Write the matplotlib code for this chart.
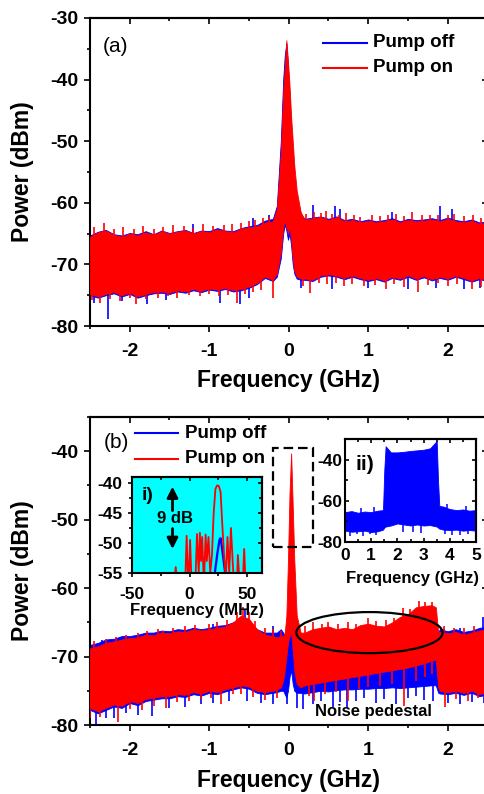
import numpy as np
import matplotlib
matplotlib.use('Agg')
import matplotlib.pyplot as plt
from matplotlib.patches import Ellipse, Rectangle
from matplotlib.ticker import MultipleLocator

plt.rcParams['font.family'] = ['Liberation Sans', 'DejaVu Sans']
plt.rcParams['font.weight'] = 'bold'
plt.rcParams['axes.labelweight'] = 'bold'
plt.rcParams['axes.unicode_minus'] = False

BLUE = '#0000ff'
RED = '#ff0000'

# ---- panel (a): envelope of the noisy traces (GHz, dBm) ----
fa = [-2.5, -2.4, -2.3, -2.2, -2.1, -2.0, -1.9, -1.8, -1.7, -1.6, -1.5, -1.4,
      -1.3, -1.2, -1.1, -1.0, -0.9, -0.8, -0.7, -0.6, -0.5, -0.4, -0.3, -0.2,
      -0.15, -0.1, -0.07, -0.05, -0.03, -0.01, 0.01, 0.03, 0.05, 0.07, 0.1, 0.15,
      0.2, 0.3, 0.4, 0.5, 0.6, 0.7, 0.8, 0.9, 1.0, 1.1, 1.2, 1.3, 1.4, 1.5, 1.6,
      1.7, 1.8, 1.9, 2.0, 2.1, 2.2, 2.3, 2.4, 2.5]
a_on_hi = [-65.5, -64.8, -64.5, -65.2, -65.5, -65.0, -65.3, -64.8, -65.2, -64.6, -65.0, -64.7,
           -64.5, -65.0, -64.6, -64.8, -64.3, -64.6, -64.8, -64.2, -64.0, -63.8, -63.2, -63.0,
           -61.0, -52.0, -42.0, -38.0, -33.6, -37.0, -41.0, -46.0, -50.0, -54.0, -58.0, -61.5,
           -62.8, -62.5, -62.3, -62.8, -62.3, -63.0, -62.8, -63.2, -62.9, -63.2, -63.0, -62.7,
           -63.2, -62.8, -63.0, -62.9, -62.7, -63.0, -62.6, -63.0, -63.2, -62.9, -63.4, -63.2]
a_on_lo = [-74.8, -75.2, -74.8, -74.5, -75.0, -74.6, -75.2, -74.8, -74.5, -74.4, -74.6, -74.2,
           -74.4, -74.0, -74.3, -73.9, -74.1, -73.8, -74.2, -74.0, -73.6, -73.0, -72.0, -72.5,
           -71.5, -68.0, -64.0, -63.0, -64.0, -65.0, -64.0, -66.0, -69.0, -71.0, -72.0, -72.3,
           -72.3, -72.5, -71.8, -71.6, -71.8, -72.2, -71.8, -72.2, -72.5, -72.2, -72.6, -72.0,
           -72.3, -71.8, -72.3, -71.9, -72.4, -72.0, -72.3, -71.8, -72.2, -72.6, -72.2, -72.5]
a_off_hi = [-65.3, -64.7, -64.4, -65.1, -65.3, -64.9, -65.1, -64.6, -65.1, -64.5, -64.9, -64.6,
            -64.4, -64.9, -64.5, -64.6, -64.1, -64.5, -64.6, -64.1, -63.8, -63.6, -62.9, -62.6,
            -60.5, -50.0, -40.0, -36.0, -34.1, -38.0, -43.0, -48.0, -52.0, -56.0, -59.5, -61.8,
            -62.6, -62.4, -62.2, -62.6, -62.2, -62.8, -62.6, -63.0, -62.7, -63.0, -62.8, -62.5,
            -63.0, -62.6, -62.8, -62.7, -62.5, -62.8, -62.4, -62.8, -63.0, -62.7, -63.2, -63.0]
a_off_lo = [-75.0, -75.4, -75.0, -74.7, -75.2, -74.8, -75.4, -75.0, -74.7, -74.6, -74.8, -74.4,
            -74.6, -74.2, -74.5, -74.1, -74.3, -74.0, -74.4, -74.2, -73.8, -73.2, -72.2, -72.7,
            -72.0, -69.0, -65.0, -63.5, -64.5, -66.0, -65.0, -67.0, -70.0, -71.5, -72.3, -72.5,
            -72.5, -72.7, -72.0, -71.8, -72.0, -72.4, -72.0, -72.4, -72.7, -72.4, -72.8, -72.2,
            -72.5, -72.0, -72.5, -72.1, -72.6, -72.2, -72.5, -72.0, -72.4, -72.8, -72.4, -72.7]
a_off_spk_f = [-2.45, -2.27, -2.1, -1.78, -1.55, -1.2, -0.87, -0.61, -0.5, -0.45, -0.25,
               0.15, 0.3, 0.55, 0.58, 0.65, 1.0, 1.3, 1.5, 1.85, 1.9, 2.05, 2.2, 2.4]
a_off_spk_v = [-76.2, -78.8, -76.0, -76.5, -75.8, -63.5, -76.3, -76.5, -75.5, -62.5, -62.0,
               -73.8, -60.4, -74.0, -60.5, -61.0, -73.8, -61.5, -74.0, -73.8, -60.6, -61.0, -74.0, -73.8]
a_on_spk_f = [-2.45, -2.33, -2.2, -2.08, -1.95, -1.83, -1.7, -1.58, -1.45, -1.32, -1.2, -1.08,
              -0.95, -0.82, -0.72, -0.6, -0.5, -0.42, -0.33, -0.25, 0.22, 0.32, 0.4, 0.47,
              0.55, 0.63, 0.72, 0.82, 0.9, 1.05, 1.15, 1.25, 1.35, 1.45, 1.55, 1.68, 1.78,
              1.88, 2.0, 2.08, 2.2, 2.32, 2.42,
              -2.48, -2.38, -2.25, -2.12, -2.0, -1.92, -1.8, -1.65, -1.52, -1.4, -1.25, -1.12,
              -1.0, -0.88, -0.77, -0.65, -0.55, -0.45, -0.35, -0.2, 0.18, 0.27, 0.38, 0.48,
              0.6, 0.7, 0.8, 0.95, 1.08, 1.22, 1.32, 1.45, 1.62, 1.75, 1.88, 2.0, 2.12, 2.3, 2.42]
a_on_spk_v = [-64.0, -63.2, -64.3, -64.0, -64.2, -63.8, -64.3, -63.9, -63.6, -63.8, -64.1, -63.5,
              -63.7, -63.6, -63.4, -63.2, -63.0, -62.8, -62.5, -62.3, -61.8, -61.5, -61.6, -61.4,
              -61.8, -61.9, -61.7, -62.0, -62.3, -62.0, -62.2, -62.0, -61.8, -62.1, -61.5, -62.0, -61.9,
              -62.0, -61.9, -61.8, -62.2, -62.0, -62.4,
              -75.8, -76.2, -75.6, -75.9, -75.5, -76.4, -75.6, -75.5, -75.2, -75.4, -75.0, -75.2,
              -74.8, -75.2, -75.0, -76.3, -74.8, -74.5, -74.2, -75.5, -73.5, -74.6, -73.0, -73.2,
              -73.0, -73.5, -73.2, -73.5, -73.3, -74.0, -73.2, -73.6, -74.5, -73.4, -73.0, -73.5,
              -73.2, -74.0, -73.6]

# ---- panel (b) ----
fb = [-2.5, -2.4, -2.3, -2.2, -2.1, -2.0, -1.9, -1.8, -1.7, -1.6, -1.5, -1.4,
      -1.3, -1.2, -1.1, -1.0, -0.9, -0.8, -0.7, -0.6, -0.5, -0.4, -0.3, -0.2,
      -0.15, -0.1, -0.07, -0.05, -0.03, -0.01, 0.01, 0.03, 0.05, 0.07, 0.1, 0.15,
      0.2, 0.3, 0.4, 0.5, 0.6, 0.7, 0.8, 0.9, 1.0, 1.1, 1.2, 1.3, 1.4, 1.5, 1.6,
      1.7, 1.8, 1.85, 1.88, 1.9, 2.0, 2.1, 2.2, 2.3, 2.4, 2.5]
b_on_hi = [-68.8, -68.5, -68.0, -67.8, -67.5, -67.3, -67.2, -66.8, -66.9, -66.5, -66.6, -66.3,
           -66.4, -66.0, -66.2, -66.0, -65.8, -65.6, -65.0, -64.0, -64.5, -66.0, -66.8, -67.0,
           -67.2, -67.0, -67.0, -66.5, -64.0, -56.0, -46.0, -40.3, -48.0, -56.0, -64.0, -66.5,
           -66.5, -66.0, -65.8, -65.6, -66.0, -65.8, -66.0, -65.4, -65.2, -65.5, -65.6, -65.0,
           -64.2, -63.8, -62.8, -62.6, -62.5, -62.8, -66.5,
           -66.4, -66.6, -66.4, -66.8, -66.5, -66.2, -66.0]
b_on_lo = [-77.5, -78.0, -77.5, -77.0, -77.2, -76.5, -76.8, -76.2, -76.0, -75.8, -75.8, -75.5,
           -75.6, -75.2, -75.4, -75.0, -75.2, -74.8, -74.5, -74.2, -74.4, -75.0, -75.2, -75.0,
           -74.8, -74.5, -73.5, -72.0, -70.0, -68.0, -67.0, -66.5, -69.0, -72.0, -74.0, -74.5,
           -74.2, -74.0, -73.8, -73.6, -73.4, -73.2, -73.0, -72.8, -72.6, -72.4, -72.2, -72.0,
           -71.8, -71.6, -71.3, -71.0, -70.6, -70.5, -74.5,
           -75.0, -75.2, -75.0, -75.3, -75.0, -75.5, -75.2]
b_off_hi = [-68.3, -68.0, -67.5, -67.4, -67.0, -67.0, -66.8, -66.5, -66.5, -66.2, -66.3, -66.0,
            -66.1, -65.8, -66.0, -65.8, -65.5, -65.4, -65.0, -64.5, -65.0, -66.0, -66.5, -66.5,
            -66.5, -66.0, -66.5, -67.0, -66.0, -64.0, -63.0, -65.0, -66.0, -64.5, -66.0, -67.0,
            -68.5, -68.5, -68.6, -68.8, -68.5, -68.8, -69.0, -68.8, -69.0, -68.9, -69.0, -69.2,
            -69.0, -69.2, -69.0, -69.3, -69.0, -69.0, -66.5,
            -66.0, -66.3, -66.0, -66.4, -66.2, -65.8, -65.6]
b_off_lo = [-77.8, -78.3, -77.8, -77.3, -77.5, -76.8, -77.1, -76.5, -76.3, -76.1, -76.1, -75.8,
            -75.9, -75.5, -75.7, -75.3, -75.5, -75.1, -74.8, -74.5, -74.7, -75.3, -75.5, -75.3,
            -75.2, -75.0, -75.0, -75.5, -76.0, -75.0, -73.0, -72.0, -74.0, -75.0, -75.3, -75.3,
            -75.4, -75.2, -75.0, -75.1, -74.9, -74.8, -74.8, -74.7, -74.7, -74.6, -74.6, -74.5,
            -74.6, -74.5, -74.4, -74.3, -74.2, -74.2, -75.3,
            -75.4, -75.5, -75.3, -75.6, -75.3, -75.8, -75.5]
b_off_spk_f = [-2.43, -2.3, -2.2, -2.05, -1.9, -1.72, -1.5, -1.3, -1.1, -0.95, -0.75, -0.53,
               -0.35, -0.2, -0.02, 0.1, 0.18, 0.3, 0.4, 0.56, 0.65, 0.73, 0.85, 0.95, 1.1,
               1.2, 1.35, 1.5, 1.6, 1.7, 1.82, 2.0, 2.15, 2.3, 2.45,
               -2.35, -1.7, -1.2, -0.95, -0.55, -0.2, 0.02, 0.08, 1.95, 2.15, 2.44]
b_off_spk_v = [-80.0, -79.0, -79.0, -78.3, -78.5, -78.7, -77.5, -77.3, -77.0, -76.8, -76.5, -76.5,
               -76.8, -77.0, -77.0, -77.5, -77.6, -77.0, -76.5, -77.3, -76.6, -77.5, -76.5, -76.0, -76.8,
               -76.2, -77.0, -76.0, -75.8, -76.3, -76.5, -76.8, -77.0, -76.6, -76.8,
               -67.6, -66.5, -65.8, -65.2, -63.2, -65.6, -62.7, -61.8, -66.0, -65.8, -64.2]
b_on_spk_f = [-2.45, -2.3, -2.17, -2.05, -1.9, -1.78, -1.65, -1.58, -1.45, -1.3, -1.18, -1.0,
              -0.9, -0.78, -0.65, -0.58, -0.5, -0.42, -0.3, -0.2, -0.1, 0.2, 0.3, 0.42, 0.5,
              0.62, 0.75, 0.85, 1.0, 1.1, 1.22, 1.32, 1.44, 1.52, 1.64, 1.72, 1.8, 1.95, 2.08,
              2.2, 2.33, 2.47,
              -2.5, -2.38, -2.15, -2.0, -1.85, -1.7, -1.55, -1.4, -1.25, -1.1, -0.98, -0.85,
              -0.7, -0.6, -0.45, -0.3, -0.15, 0.25, 0.32, 0.45, 0.6, 0.745, 0.88, 1.0, 1.15,
              1.3, 1.45, 1.6, 1.72, 1.8, 1.97, 2.1, 2.25, 2.38, 2.48]
b_on_spk_v = [-67.8, -67.4, -67.2, -66.8, -66.5, -66.3, -66.0, -66.2, -65.8, -65.6, -65.4, -65.2,
              -65.0, -64.6, -63.5, -62.8, -63.5, -64.8, -65.8, -66.0, -66.2, -65.6, -65.0, -65.2, -64.9,
              -65.2, -65.0, -65.3, -64.4, -64.8, -64.6, -64.3, -62.9, -63.0, -61.9, -62.0, -62.1, -65.6, -65.8,
              -65.9, -65.6, -64.5,
              -79.0, -78.8, -79.5, -77.6, -77.8, -77.2, -77.5, -76.6, -76.5, -76.2, -76.0, -77.0,
              -75.5, -75.4, -75.9, -76.3, -76.0, -75.8, -76.5, -75.5, -75.2, -76.5, -74.8, -74.5, -74.3,
              -74.0, -77.2, -73.5, -73.0, -72.5, -77.4, -76.2, -76.5, -76.0, -76.5]

# ---- inset i) (MHz, dBm) ----
fi_on = [-50, -14, -12, -10, -4, -2.5, -1, 0.5, 2, 5, 6.5, 8, 9, 10, 11, 12.5, 14, 15, 16.5,
         18, 19.5, 21, 22.5, 24, 25.5, 27, 28.5, 30, 31.5, 33, 34.5, 36, 37.5, 39, 41, 42,
         44, 46, 47.5, 49, 62]
pi_on = [-58, -58, -54, -58, -58, -48.8, -58, -49.5, -58, -57, -48.5, -55, -48.3, -53, -49,
         -57, -48.6, -53, -49, -55, -52, -45, -41, -40.4, -40.5, -41.5, -47, -52, -56, -49,
         -55, -47.5, -53, -58, -58, -52, -58, -58, -51, -58, -58]
fi_off = [-50, 20, 22, 24, 26, 27, 28, 29, 31, 33, 62]
pi_off = [-58, -58, -55, -52, -49.5, -49.2, -50.5, -52, -55, -58, -58]

# ---- inset ii) (GHz, dBm) ----
fii = [0, 0.25, 0.5, 0.75, 1.0, 1.25, 1.45, 1.5, 1.55, 1.75, 2.0, 2.25, 2.5, 2.75, 3.0,
       3.25, 3.5, 3.55, 3.6, 3.75, 4.0, 4.25, 4.5, 4.75, 5.0]
ii_hi = [-65.5, -65.0, -65.8, -65.2, -65.5, -64.8, -64.5, -45, -33.5, -36.5, -36.5, -36.2,
         -35.8, -35.5, -35.2, -34.5, -31.0, -50, -62.5, -62.8, -64.0, -64.5, -64.2, -64.8, -64.5]
ii_lo = [-74.5, -75.0, -74.8, -74.5, -75.2, -74.8, -74.0, -73.0, -72.5, -72.0, -71.0, -71.5,
         -72.0, -71.5, -72.0, -71.8, -72.5, -73.0, -73.5, -74.0, -74.2, -74.0, -74.5, -74.2, -74.5]
ii_spk_f = [0.2, 0.45, 0.7, 0.95, 1.2, 2.2, 2.6, 2.9, 3.8, 4.1, 4.4, 4.7, 0.6, 1.1, 3.9, 4.6]
ii_spk_v = [-77, -76, -77, -76, -76.5, -75, -75, -75.5, -76, -76.5, -76.5, -76,
            -63.5, -63.0, -61.5, -62.5]


def band(ax, f, hi, lo, sf, sv, color, z):
    ax.fill_between(f, lo, hi, color=color, lw=0.6, zorder=z)
    mid = np.interp(sf, f, (np.array(hi) + np.array(lo)) / 2)
    ax.vlines(sf, mid, sv, color=color, lw=1.2, zorder=z)


def sides(ax, xmaj, xmin, ymaj, ymin, out=True, length=(4, 2.5), lw=1.5):
    for s in ax.spines.values():
        s.set_linewidth(lw)
    d = 'out' if out else 'in'
    ax.xaxis.set_major_locator(MultipleLocator(xmaj))
    ax.xaxis.set_minor_locator(MultipleLocator(xmin))
    ax.yaxis.set_major_locator(MultipleLocator(ymaj))
    ax.yaxis.set_minor_locator(MultipleLocator(ymin))
    ax.tick_params(which='both', direction=d, width=1.2)
    ax.tick_params(which='major', length=length[0])
    ax.tick_params(which='minor', length=length[1])
    top = ax.secondary_xaxis('top')
    right = ax.secondary_yaxis('right')
    top.xaxis.set_major_locator(MultipleLocator(xmaj))
    top.xaxis.set_minor_locator(MultipleLocator(xmin))
    right.yaxis.set_major_locator(MultipleLocator(ymaj))
    right.yaxis.set_minor_locator(MultipleLocator(ymin))
    for sec in (top, right):
        sec.tick_params(which='both', direction='in', width=1.2, labeltop=False,
                        labelright=False)
        sec.tick_params(which='major', length=length[0])
        sec.tick_params(which='minor', length=length[1])
        for s in sec.spines.values():
            s.set_linewidth(lw)


fig = plt.figure(figsize=(4.85, 7.94), dpi=100)
W, H = 485.0, 794.0

axa = fig.add_axes([90 / W, 1 - 326 / H, 397.5 / W, 308 / H])
axb = fig.add_axes([90 / W, 1 - 725 / H, 397.5 / W, 308 / H])

band(axa, fa, a_off_hi, a_off_lo, a_off_spk_f, a_off_spk_v, BLUE, 2)
band(axa, fa, a_on_hi, a_on_lo, a_on_spk_f, a_on_spk_v, RED, 3)
band(axb, fb, b_off_hi, b_off_lo, b_off_spk_f, b_off_spk_v, BLUE, 2)
band(axb, fb, b_on_hi, b_on_lo, b_on_spk_f, b_on_spk_v, RED, 3)

axa.set_xlim(-2.5, 2.5)
axa.set_ylim(-80, -30)
axb.set_xlim(-2.5, 2.5)
axb.set_ylim(-80, -35)

for ax in (axa, axb):
    sides(ax, 1, 0.5, 10, 5)
    ax.tick_params(axis='x', labelsize=14, pad=8)
    ax.tick_params(axis='y', labelsize=14, pad=4.5)
    ax.set_xlabel('Frequency (GHz)', fontsize=16.5, va='center')
    ax.set_ylabel('Power (dBm)', fontsize=16.5, va='center')
    ax.xaxis.set_label_coords(0.5, -55 / 308)
    ax.yaxis.set_label_coords(-67 / 397.5, 0.5)

# legends drawn by hand
axa.plot([0.586, 0.697], [0.919, 0.919], color=BLUE, lw=1.5, transform=axa.transAxes)
axa.plot([0.586, 0.697], [0.838, 0.838], color=RED, lw=1.5, transform=axa.transAxes)
axa.text(0.712, 0.919, 'Pump off', transform=axa.transAxes, fontsize=13.5, va='center')
axa.text(0.712, 0.838, 'Pump on', transform=axa.transAxes, fontsize=13.5, va='center')
axa.text(0.0654, 0.909, '(a)', transform=axa.transAxes, fontsize=15, fontweight='normal',
         ha='center', va='center')

axb.plot([0.113, 0.221], [0.948, 0.948], color=BLUE, lw=1.5, transform=axb.transAxes)
axb.plot([0.113, 0.221], [0.864, 0.864], color=RED, lw=1.5, transform=axb.transAxes)
axb.text(0.239, 0.948, 'Pump off', transform=axb.transAxes, fontsize=13.5, va='center')
axb.text(0.239, 0.864, 'Pump on', transform=axb.transAxes, fontsize=13.5, va='center')
axb.text(0.0667, 0.9156, '(b)', transform=axb.transAxes, fontsize=15, fontweight='normal',
         ha='center', va='center')

axb.add_patch(Ellipse((1.015, -66.5), 1.84, 6.0, fill=False, ec='black', lw=1.6, zorder=5))
axb.add_patch(Rectangle((-0.2, -54.0), 0.5, 14.4, fill=False, ec='black', lw=1.6,
                        ls=(0, (4.3, 2.2)), zorder=5, clip_on=False))
axb.text(1.06, -78.1, 'Noise pedestal', fontsize=12, ha='center', va='center', zorder=6)

# inset i)
axi = fig.add_axes([132 / W, 1 - 573 / H, 130 / W, 96 / H], facecolor='#00ffff', zorder=5)
axi.plot(fi_off, pi_off, color=BLUE, lw=1.6)
axi.plot(fi_on, pi_on, color=RED, lw=1.3)
axi.set_xlim(-50, 63)
axi.set_ylim(-55, -39)
sides(axi, 50, 25, 5, 2.5, length=(3, 2), lw=1.5)
axi.tick_params(axis='both', labelsize=12.5)
axi.tick_params(axis='x', pad=7)
axi.tick_params(axis='y', pad=4)
axi.set_xlabel('Frequency (MHz)', fontsize=12, va='center')
axi.xaxis.set_label_coords(0.5, -37 / 96)
axi.text(-36.8, -42.1, 'i)', fontsize=14, ha='center', va='center')
arrow = dict(arrowstyle='-|>', color='black', lw=2, mutation_scale=16, shrinkA=0, shrinkB=0)
axi.annotate('', xy=(-14.8, -40.6), xytext=(-14.8, -44.6), arrowprops=arrow)
axi.annotate('', xy=(-14.8, -51.0), xytext=(-14.8, -47.6), arrowprops=arrow)
axi.text(-12.5, -45.9, '9 dB', fontsize=12, ha='center', va='center')

# inset ii)
axii = fig.add_axes([345 / W, 1 - 542 / H, 131 / W, 103 / H], zorder=5)
axii.fill_between(fii, ii_lo, ii_hi, color=BLUE, lw=0.6)
mid = np.interp(ii_spk_f, fii, (np.array(ii_hi) + np.array(ii_lo)) / 2)
axii.vlines(ii_spk_f, mid, ii_spk_v, color=BLUE, lw=1.1)
axii.set_xlim(0, 5)
axii.set_ylim(-80, -30)
sides(axii, 1, 0.5, 20, 10, out=False, length=(3, 2), lw=1.5)
axii.tick_params(axis='both', labelsize=12.5)
axii.tick_params(axis='x', pad=4)
axii.tick_params(axis='y', pad=2)
axii.set_yticks([-40, -60, -80])
axii.set_xlabel('Frequency (GHz)', fontsize=12, va='center')
axii.xaxis.set_label_coords(0.515, -36 / 103)
axii.text(0.77, -42.4, 'ii)', fontsize=15, ha='center', va='center')

fig.savefig('out.png', dpi=100)
